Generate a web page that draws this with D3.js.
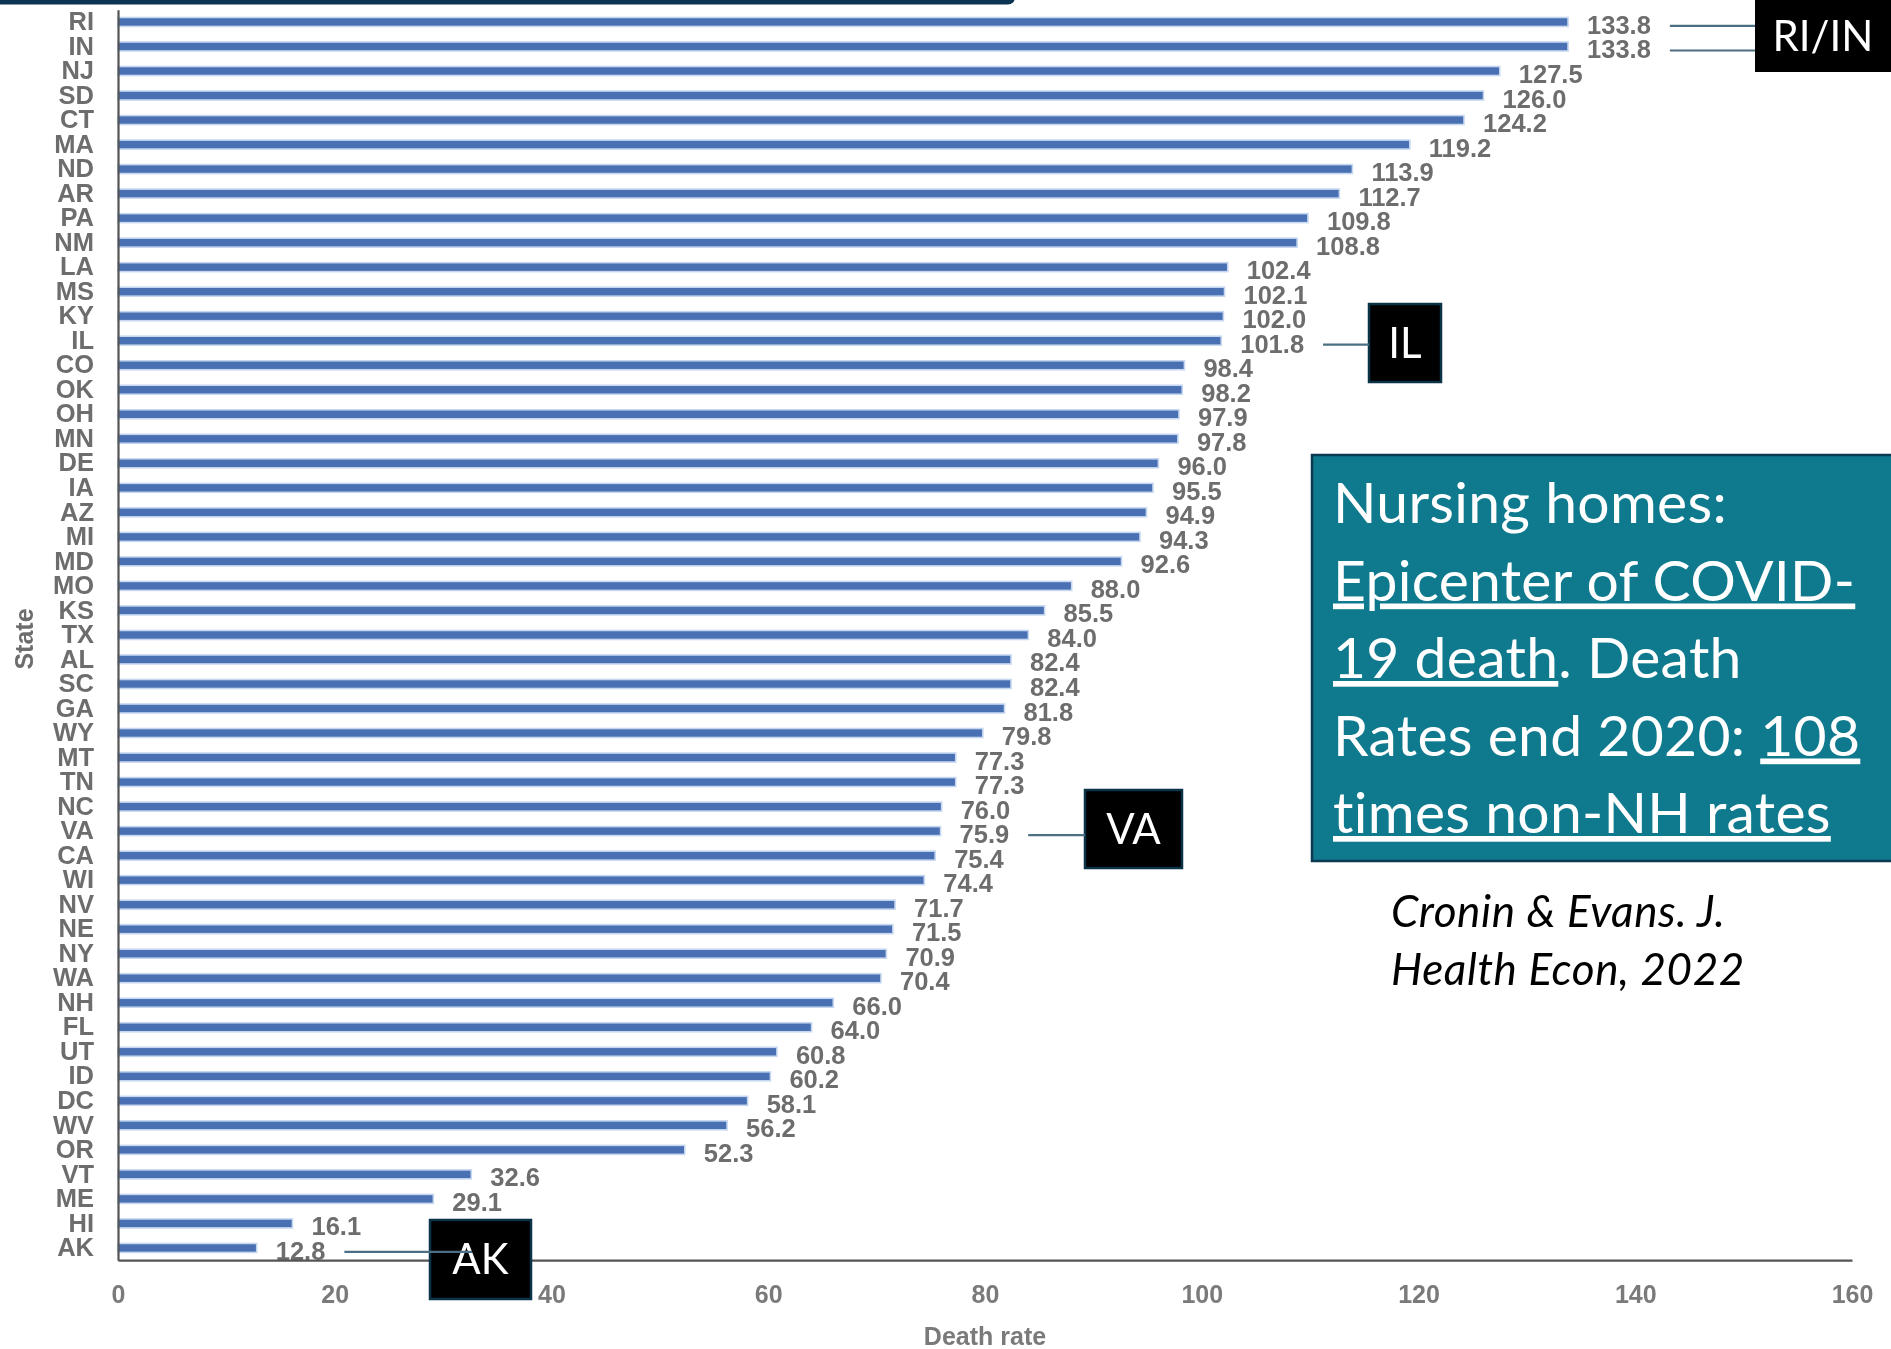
<!DOCTYPE html>
<html>
<head>
<meta charset="utf-8">
<script src="https://cdn.jsdelivr.net/npm/d3@7/dist/d3.min.js"></script>
<style>
  html, body { margin: 0; padding: 0; background: #ffffff; }
  svg { display: block; }
</style>
</head>
<body>
<svg id="chart" width="1891" height="1349"></svg>
<script>
// Nursing-home COVID-19 death rates by state, end of 2020
const states = ["RI","IN","NJ","SD","CT","MA","ND","AR","PA","NM","LA","MS","KY","IL","CO","OK","OH","MN","DE","IA","AZ","MI","MD","MO","KS","TX","AL","SC","GA","WY","MT","TN","NC","VA","CA","WI","NV","NE","NY","WA","NH","FL","UT","ID","DC","WV","OR","VT","ME","HI","AK"];
const deathRates = [133.8,133.8,127.5,126.0,124.2,119.2,113.9,112.7,109.8,108.8,102.4,102.1,102.0,101.8,98.4,98.2,97.9,97.8,96.0,95.5,94.9,94.3,92.6,88.0,85.5,84.0,82.4,82.4,81.8,79.8,77.3,77.3,76.0,75.9,75.4,74.4,71.7,71.5,70.9,70.4,66.0,64.0,60.8,60.2,58.1,56.2,52.3,32.6,29.1,16.1,12.8];
const xTicks = [0,20,40,60,80,100,120,140,160];
const xTitle = "Death rate";
const yTitle = "State";

// Highlighted states and their callout tags
const callouts = [
  { label: "RI/IN", states: ["RI","IN"], box: [1755, 0, 136, 72], border: false },
  { label: "IL", states: ["IL"], box: [1369, 304, 72, 78], border: true },
  { label: "VA", states: ["VA"], box: [1085, 790, 97, 78], border: true },
  { label: "AK", states: ["AK"], box: [430, 1220, 101, 79], border: true, overlap: 42 }
];

const noteLines = [
  [{ t: "Nursing homes:", u: false }],
  [{ t: "Epicenter of COVID-", u: true }],
  [{ t: "19 death", u: true }, { t: ". Death", u: false }],
  [{ t: "Rates end 2020: ", u: false }, { t: "108", u: true }],
  [{ t: "times non-NH rates", u: true }]
];
const citation = ["Cronin & Evans. J.", "Health Econ, 2022"];

const data = states.map((s, i) => ({ state: s, value: deathRates[i] }));

const svg = d3.select("#chart");
const chartFont = "'Liberation Sans', Arial, sans-serif";
const slideFont = "Lato, 'Open Sans', sans-serif";
const grey = "#6d6d6d";

// soft rendering of the embedded chart image
const defs = svg.append("defs");
defs.append("filter").attr("id", "soft")
  .append("feGaussianBlur").attr("stdDeviation", 0.6);

// slide header strip
svg.append("rect")
  .attr("x", -20).attr("y", -10).attr("width", 1035).attr("height", 14.5)
  .attr("rx", 7).attr("fill", "#0c3553");

const x = d3.scaleLinear().domain([0, 160]).range([118, 1852]);
const y = d3.scaleBand().domain(states).range([9.7, 1260.2]);
const barH = 9;
const cy = s => y(s) + y.bandwidth() / 2;

const chart = svg.append("g").attr("filter", "url(#soft)");

// bars
chart.append("g").selectAll("rect")
  .data(data).join("rect")
  .attr("x", x(0))
  .attr("y", d => cy(d.state) - barH / 2)
  .attr("width", d => x(d.value) - x(0))
  .attr("height", barH)
  .attr("fill", "#4a6fb3")
  .attr("stroke", "#c6d8f0")
  .attr("stroke-width", 1.6);

// value labels
const valueLabels = chart.append("g").selectAll("text")
  .data(data).join("text")
  .attr("x", d => x(d.value) + 19)
  .attr("y", d => cy(d.state) + 12)
  .attr("font-family", chartFont)
  .attr("font-weight", "bold")
  .attr("font-size", 25.5)
  .attr("fill", grey)
  .text(d => d.value.toFixed(1));

// x axis
const xAxis = chart.append("g")
  .attr("transform", `translate(0,${y.range()[1]})`)
  .call(d3.axisBottom(x).tickValues(xTicks).tickSize(0).tickPadding(25).tickSizeOuter(0));
xAxis.select(".domain").attr("stroke", "#555").attr("stroke-width", 2.2);
xAxis.selectAll("text")
  .attr("font-family", chartFont).attr("font-weight", "bold")
  .attr("font-size", 25).attr("fill", "#7a7a7a");

// y axis
const yAxis = chart.append("g")
  .attr("transform", `translate(${x(0)},0)`)
  .call(d3.axisLeft(y).tickSize(0).tickPadding(24).tickSizeOuter(0));
yAxis.select(".domain").attr("stroke", "#555").attr("stroke-width", 2.2);
yAxis.selectAll("text")
  .attr("font-family", chartFont).attr("font-weight", "bold")
  .attr("font-size", 25.5).attr("fill", grey);

// axis titles
chart.append("text")
  .attr("x", (x(0) + x(160)) / 2).attr("y", 1345)
  .attr("text-anchor", "middle")
  .attr("font-family", chartFont).attr("font-weight", "bold")
  .attr("font-size", 25).attr("fill", "#7a7a7a")
  .text(xTitle);
chart.append("text")
  .attr("transform", "translate(33,639) rotate(-90)")
  .attr("text-anchor", "middle")
  .attr("font-family", chartFont).attr("font-weight", "bold")
  .attr("font-size", 25).attr("fill", grey)
  .text(yTitle);

// callout tags with leader lines
const labelEnd = {};
valueLabels.each(function(d) {
  labelEnd[d.state] = +this.getAttribute("x") + this.getComputedTextLength();
});
const tags = svg.append("g");
callouts.forEach(c => {
  const [bx, by, bw, bh] = c.box;
  tags.append("rect")
    .attr("x", bx).attr("y", by).attr("width", bw).attr("height", bh)
    .attr("fill", "#000")
    .attr("stroke", c.border ? "#0b3348" : "none")
    .attr("stroke-width", 2.5);
  tags.append("text")
    .attr("x", bx + bw / 2).attr("y", by + bh / 2)
    .attr("dy", "0.35em")
    .attr("text-anchor", "middle")
    .attr("font-family", slideFont)
    .attr("font-size", 42)
    .attr("fill", "#fff")
    .text(c.label);
  c.states.forEach(s => {
    tags.append("line")
      .attr("x1", labelEnd[s] + 19)
      .attr("x2", bx + (c.overlap || 0))
      .attr("y1", cy(s) + 4).attr("y2", cy(s) + 4)
      .attr("stroke", "#4d6f84").attr("stroke-width", 2.2);
  });
});

// summary note
svg.append("rect")
  .attr("x", 1312).attr("y", 455).attr("width", 600).attr("height", 406)
  .attr("fill", "#0f7a8e").attr("stroke", "#0b3a50").attr("stroke-width", 2.5);
const note = svg.append("text")
  .attr("font-family", slideFont)
  .attr("font-size", 57)
  .attr("letter-spacing", 0.3)
  .attr("fill", "#fff");
noteLines.forEach((parts, i) => {
  parts.forEach((p, j) => {
    const ts = note.append("tspan")
      .style("text-decoration", p.u ? "underline" : "none")
      .style("white-space", "pre")
      .text(p.t);
    if (j === 0) ts.attr("x", 1333).attr("y", 523 + i * 77.5);
  });
});

// citation
citation.forEach((line, i) => {
  svg.append("text")
    .attr("x", 1391).attr("y", 927 + i * 58)
    .attr("font-family", slideFont)
    .attr("font-style", "italic")
    .attr("font-size", 44)
    .attr("letter-spacing", 0.6)
    .attr("fill", "#000")
    .text(line);
});
</script>
</body>
</html>
